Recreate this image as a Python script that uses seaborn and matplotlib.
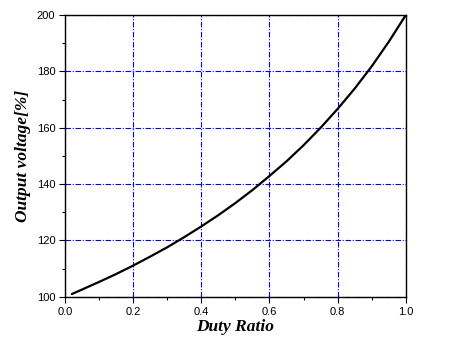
import numpy as np
import pandas as pd
import seaborn as sns
import matplotlib
matplotlib.use('Agg')
import matplotlib.pyplot as plt
from matplotlib.ticker import MultipleLocator

# valores
duty = [0.02, 0.05, 0.10, 0.15, 0.20, 0.25, 0.30, 0.35, 0.40, 0.45, 0.50,
        0.55, 0.60, 0.65, 0.70, 0.75, 0.80, 0.85, 0.90, 0.95, 1.00]
vout = [101.0, 102.6, 105.3, 108.1, 111.1, 114.3, 117.6, 121.2, 125.0, 129.0, 133.3,
        137.9, 142.9, 148.1, 153.8, 160.0, 166.7, 173.9, 181.8, 190.5, 200.0]

df = pd.DataFrame({'duty': duty, 'vout': vout})

sns.set_style('white')
plt.rcParams['font.family'] = ['Liberation Sans', 'DejaVu Sans']
plt.rcParams['text.color'] = 'black'
plt.rcParams['axes.labelcolor'] = 'black'
plt.rcParams['xtick.color'] = 'black'
plt.rcParams['ytick.color'] = 'black'

fig = plt.figure(figsize=(4.58, 3.42), dpi=100)
ax = fig.add_axes([0.142, 0.132, 0.744, 0.824])

sns.lineplot(data=df, x='duty', y='vout', color='black', lw=1.6, ax=ax)

ax.set_xlim(0, 1.0)
ax.set_ylim(100, 200)
ax.xaxis.set_major_locator(MultipleLocator(0.2))
ax.xaxis.set_minor_locator(MultipleLocator(0.1))
ax.yaxis.set_major_locator(MultipleLocator(20))
ax.yaxis.set_minor_locator(MultipleLocator(10))
ax.tick_params(which='major', direction='out', length=4, width=0.8, labelsize=8,
               bottom=True, left=True, top=False, right=False, pad=3)
ax.tick_params(which='minor', direction='out', length=2, width=0.8,
               bottom=True, left=True, top=False, right=False)

ax.grid(True, which='major', color='#0000ff', linestyle=(0, (5, 1.5, 1, 1.5)), lw=0.8)

for s in ax.spines.values():
    s.set_color('black')
    s.set_linewidth(1.0)

lab = dict(family='Liberation Serif', fontsize=12.5, fontweight='bold', style='italic',
           color='black')
ax.set_xlabel('Duty Ratio', labelpad=2, **lab)
ax.set_ylabel('Output voltage[%]', labelpad=4, **lab)

fig.savefig('out.png', dpi=100)
